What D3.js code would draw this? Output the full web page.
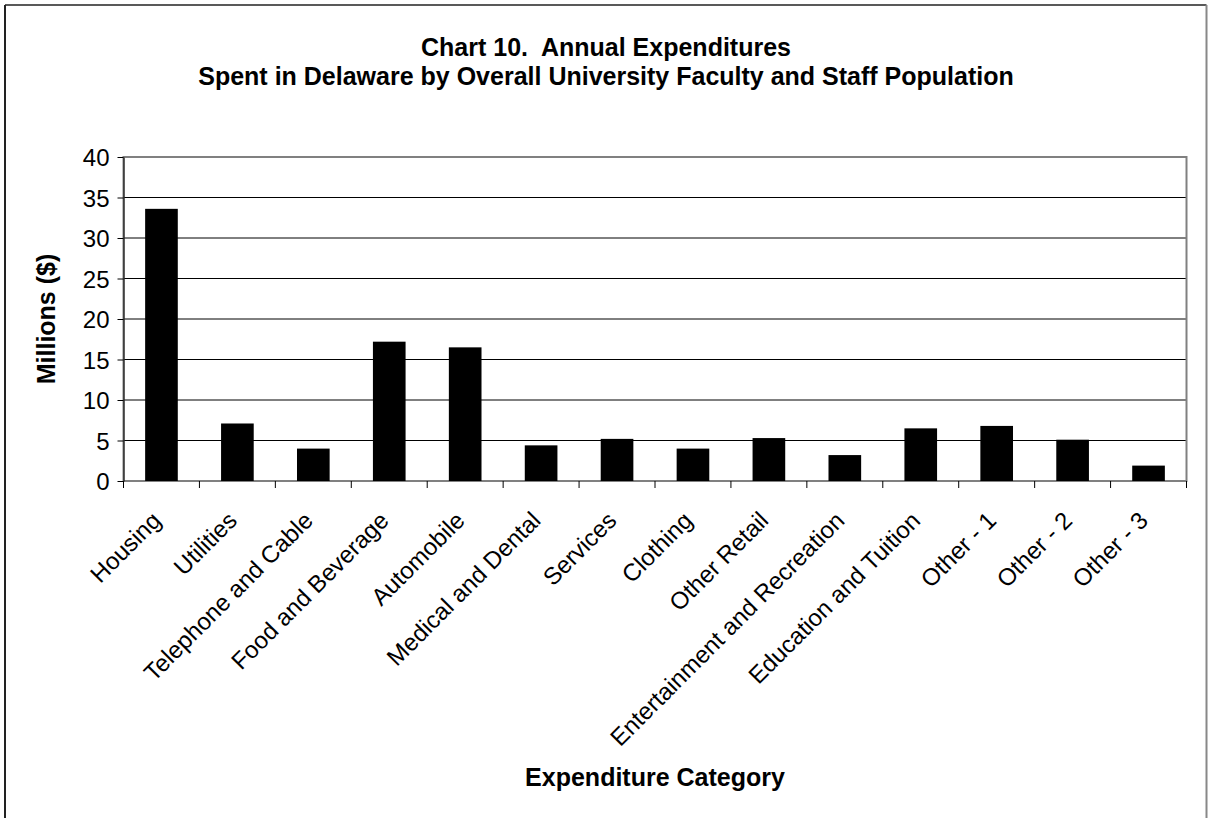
<!DOCTYPE html>
<html>
<head>
<meta charset="utf-8">
<script src="https://cdn.jsdelivr.net/npm/d3@7"></script>
<style>
  body { margin: 0; background: #fff; }
  text { font-family: Arial, "Liberation Sans", sans-serif; }
</style>
</head>
<body>
<div id="chart"></div>
<script>
var categories = ["Housing", "Utilities", "Telephone and Cable", "Food and Beverage", "Automobile",
    "Medical and Dental", "Services", "Clothing", "Other Retail", "Entertainment and Recreation",
    "Education and Tuition", "Other - 1", "Other - 2", "Other - 3"];
var values = [33.6, 7.1, 4.0, 17.2, 16.5, 4.4, 5.2, 4.0, 5.3, 3.2, 6.5, 6.8, 5.1, 1.9];
var yTicks = [0, 5, 10, 15, 20, 25, 30, 35, 40];
var titleLines = ["Chart 10.  Annual Expenditures",
    "Spent in Delaware by Overall University Faculty and Staff Population"];

var width = 1208, height = 818;
var margin = { top: 157, right: 21.5, bottom: 337, left: 123.5 },
    plotW = width - margin.left - margin.right,
    plotH = height - margin.top - margin.bottom;

var svg = d3.select("#chart")
    .append("svg")
    .attr("width", width)
    .attr("height", height);

svg.append("rect").attr("width", width).attr("height", height).attr("fill", "#fff");

// chart area border (runs off the bottom of the picture)
svg.append("line").attr("x1", 5).attr("y1", 5).attr("x2", 5).attr("y2", height)
    .attr("stroke", "#222").attr("stroke-width", 2);
svg.append("line").attr("x1", 5).attr("y1", 5).attr("x2", 1206.5).attr("y2", 5)
    .attr("stroke", "#222").attr("stroke-width", 1.5);
svg.append("line").attr("x1", 1206.5).attr("y1", 5).attr("x2", 1206.5).attr("y2", height)
    .attr("stroke", "#888").attr("stroke-width", 2);

// title
svg.append("text")
    .attr("text-anchor", "middle")
    .style("font-size", "25px")
    .style("font-weight", "bold")
    .style("white-space", "pre")
    .selectAll("tspan")
    .data(titleLines)
    .enter().append("tspan")
    .attr("x", 606)
    .attr("y", function (d, i) { return 56 + i * 29; })
    .text(function (d) { return d; });

var g = svg.append("g")
    .attr("transform", "translate(" + margin.left + "," + margin.top + ")");

var xScale = d3.scaleBand()
    .domain(categories)
    .range([0, plotW])
    .padding(0);

var yScale = d3.scaleLinear()
    .domain([0, 40])
    .range([plotH, 0]);

// gridlines
g.selectAll(".grid")
    .data(yTicks.filter(function (d) { return d > 0 && d < 40; }))
    .enter().append("line")
    .attr("class", "grid")
    .attr("x1", 0)
    .attr("x2", plotW)
    .attr("y1", function (d) { return yScale(d); })
    .attr("y2", function (d) { return yScale(d); })
    .attr("stroke", "#000")
    .attr("stroke-width", 1);

// plot area border
g.append("rect")
    .attr("width", plotW)
    .attr("height", plotH)
    .attr("fill", "none")
    .attr("stroke", "#808080")
    .attr("stroke-width", 2);

// bars
var barW = xScale.bandwidth() * 0.43;
g.selectAll(".bar")
    .data(values)
    .enter().append("rect")
    .attr("class", "bar")
    .attr("x", function (d, i) { return xScale(categories[i]) + xScale.bandwidth() / 2 - barW / 2; })
    .attr("y", function (d) { return yScale(d); })
    .attr("width", barW)
    .attr("height", function (d) { return plotH - yScale(d); })
    .attr("fill", "#000");

// y axis
var yAxis = g.append("g")
    .attr("class", "y axis")
    .call(d3.axisLeft(yScale).tickValues(yTicks).tickSize(6).tickPadding(8).tickSizeOuter(0));
yAxis.select(".domain").attr("stroke", "#000");
yAxis.selectAll("line").attr("stroke", "#000");
yAxis.selectAll("text").style("font-size", "24px").attr("fill", "#000").attr("dy", "0.36em");

// x tick marks on category boundaries
var bounds = categories.map(function (c) { return xScale(c); }).concat([plotW]);
g.selectAll(".xtick")
    .data(bounds)
    .enter().append("line")
    .attr("class", "xtick")
    .attr("x1", function (d) { return d; })
    .attr("x2", function (d) { return d; })
    .attr("y1", plotH)
    .attr("y2", plotH + 7)
    .attr("stroke", "#000");

// x labels
var xAxis = g.append("g")
    .attr("class", "x axis")
    .attr("transform", "translate(0," + plotH + ")")
    .call(d3.axisBottom(xScale).tickSize(0).tickSizeOuter(0));
xAxis.select(".domain").remove();
xAxis.selectAll("text")
    .style("font-size", "24px")
    .attr("fill", "#000")
    .attr("y", 0)
    .attr("dy", 0)
    .style("text-anchor", "end")
    .attr("transform", "translate(1,41)rotate(-45)");

// axis titles
svg.append("text")
    .attr("transform", "translate(55," + (margin.top + plotH / 2) + ")rotate(-90)")
    .attr("text-anchor", "middle")
    .style("font-size", "25px")
    .style("font-weight", "bold")
    .text("Millions ($)");

svg.append("text")
    .attr("x", margin.left + plotW / 2)
    .attr("y", 786)
    .attr("text-anchor", "middle")
    .style("font-size", "25px")
    .style("font-weight", "bold")
    .text("Expenditure Category");
</script>
</body>
</html>
